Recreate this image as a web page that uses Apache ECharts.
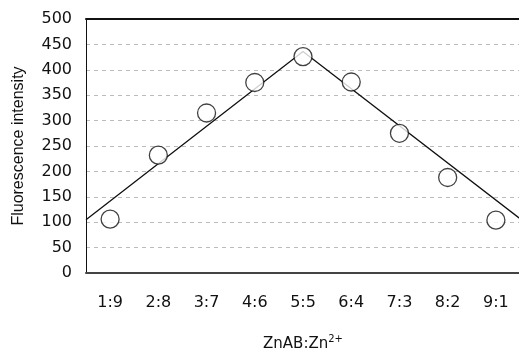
<!DOCTYPE html>
<html><head><meta charset="utf-8">
<script src="https://cdn.jsdelivr.net/npm/echarts@6/dist/echarts.min.js"></script>
<style>html,body{margin:0;padding:0;background:#fff}#c{width:519px;height:349px}</style>
</head><body><div id="c"></div>
<script>
const categories = ['1:9','2:8','3:7','4:6','5:5','6:4','7:3','8:2','9:1'];
const intensity = [106, 232, 315, 375, 426, 376, 275, 188, 104];
const trendLine = [[-0.5, 105], [4, 436], [8.5, 107]];
const yTicks = {min: 0, max: 500, interval: 50};

const chart = echarts.init(document.getElementById('c'), null, {renderer: 'canvas'});
const tickFont = {fontFamily: 'DejaVu Sans', fontSize: 16, color: '#111'};
chart.setOption({
  animation: false,
  grid: {left: 86, right: -1, top: 19, bottom: 76, containLabel: false, outerBoundsMode: 'none'},
  xAxis: [{
    type: 'category', data: categories, boundaryGap: true,
    axisLine: {lineStyle: {color: '#444', width: 2}},
    axisTick: {show: false},
    axisLabel: Object.assign({margin: 22}, tickFont),
    name: '{a|ZnAB:Zn}{s|2+}', nameLocation: 'middle', nameGap: 61,
    nameTextStyle: {rich: {a: {fontFamily: 'DejaVu Sans', fontSize: 15, color: '#111', verticalAlign: 'bottom', lineHeight: 18}, s: {fontFamily: 'DejaVu Sans', fontSize: 10, color: '#111', verticalAlign: 'top', lineHeight: 18}}}
  }, {
    type: 'value', min: -0.5, max: 8.5, position: 'top',
    axisLine: {show: true, lineStyle: {color: '#111', width: 2}},
    axisTick: {show: false}, axisLabel: {show: false}, splitLine: {show: false}
  }],
  yAxis: {
    type: 'value', min: yTicks.min, max: yTicks.max, interval: yTicks.interval,
    axisLine: {show: true, onZero: false, lineStyle: {color: '#111', width: 1}},
    axisTick: {show: false},
    axisLabel: Object.assign({margin: 14}, tickFont),
    splitLine: {show: true, lineStyle: {color: '#bbb', type: [4, 4], width: 1}},
    name: 'Fluorescence intensity', nameLocation: 'middle', nameGap: 59,
    nameTextStyle: {fontFamily: 'Liberation Sans', fontSize: 16, color: '#111'}
  },
  series: [{
    type: 'line', xAxisIndex: 1, data: trendLine, symbol: 'none',
    lineStyle: {color: '#111', width: 1.3}, z: 2
  }, {
    type: 'scatter', xAxisIndex: 0, data: intensity,
    symbol: 'circle', symbolSize: 18,
    itemStyle: {color: '#fff', borderColor: '#111', borderWidth: 1.3}, z: 3
  }]
});
</script></body></html>
